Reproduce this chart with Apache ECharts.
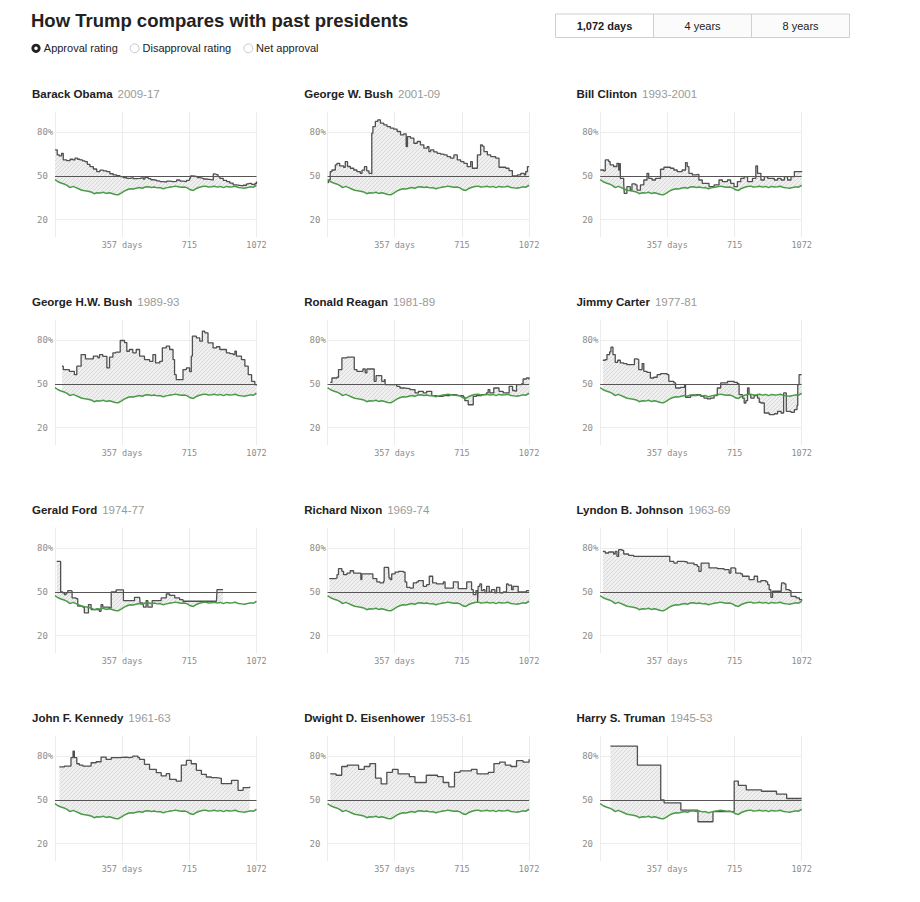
<!DOCTYPE html>
<html><head><meta charset="utf-8">
<script src="https://cdn.jsdelivr.net/npm/echarts@6/dist/echarts.min.js"></script>
<style>html,body{margin:0;padding:0;background:#fff}#chart{width:920px;height:902px}</style>
</head><body><div id="chart"></div>
<script>
// ---------- DATA ----------
const trumpApproval = [[0,47.5],[16,46.0],[32,45.2],[48,44.5],[64,43.5],[80,42.0],[96,42.8],[112,42.0],[128,41.0],[144,40.2],[160,39.8],[176,39.5],[192,39.0],[208,37.8],[224,38.5],[240,38.2],[256,38.8],[272,38.0],[288,38.4],[304,37.9],[320,37.2],[336,37.0],[352,38.2],[368,39.6],[384,40.5],[400,41.2],[416,41.0],[432,41.6],[448,42.0],[464,41.5],[480,42.4],[496,42.6],[512,42.0],[528,42.4],[544,41.8],[560,42.0],[576,41.2],[592,41.8],[608,42.2],[624,42.5],[640,43.0],[656,42.6],[672,42.2],[688,42.4],[704,41.8],[720,40.5],[736,40.0],[752,41.4],[768,42.2],[784,42.8],[800,43.0],[816,42.4],[832,42.6],[848,42.9],[864,42.3],[880,42.8],[896,42.0],[912,42.8],[928,42.4],[944,42.6],[960,42.9],[976,42.0],[992,41.8],[1008,41.6],[1024,42.0],[1040,42.5],[1056,42.3],[1072,43.6]];

const obamaApproval = [[0,67.9],[12,64.5],[23,63.8],[35,65.6],[44,61],[62,60.5],[80,61.5],[95,61],[106,62.2],[120,61.5],[133,61],[146,60.4],[159,59.9],[172,58],[186,56.4],[204,54.8],[222,53],[239,54],[257,53.5],[275,53],[292,51.5],[310,50.7],[328,50.2],[346,49.5],[363,48.9],[381,48.4],[399,48.8],[416,48.2],[434,48.4],[452,48.8],[470,47.8],[478,49],[496,48.1],[510,47.4],[523,47.2],[540,46.6],[558,46.1],[576,45.7],[594,46.4],[611,46.1],[629,46.3],[647,47.2],[665,46.5],[682,46.1],[700,47],[709,47.2],[716,48.5],[721,50],[732,49.8],[744,49.5],[757,48.8],[771,48.4],[789,47.9],[806,47.7],[820,47.4],[833,47.2],[842,51.4],[850,51],[859,50.7],[868,49.5],[877,48.4],[895,47],[913,46.1],[930,45],[948,43.8],[965,43.5],[983,43.1],[1001,43.6],[1019,44.5],[1028,44.9],[1037,44.9],[1046,44.2],[1054,43.8],[1063,44.8],[1072,46.1]];

const bushWApproval = [[0,45.5],[5,47.2],[14,53],[23,54.1],[41,57.6],[50,58.7],[64,56.9],[85,56],[94,59.9],[106,56.5],[121,55.3],[139,54.1],[156,53],[174,51.8],[183,54],[196,56.4],[208,53.5],[220,51.8],[231,51.4],[235,79.4],[241,84],[254,87.5],[267,88.6],[281,86.3],[299,85.2],[316,84],[334,82.9],[352,82.2],[370,80.6],[388,78.3],[405,79],[418,70.2],[425,77.1],[441,76],[459,72.5],[477,73.7],[494,71.4],[512,69.1],[530,70.2],[539,66.8],[548,67.9],[565,66.5],[583,65.6],[601,65],[619,64.5],[636,63.3],[654,62.2],[672,64.5],[690,61],[708,59.9],[725,58.7],[743,56.4],[761,59.9],[770,55.3],[788,55.3],[797,64.5],[814,71.4],[823,70.5],[832,66.8],[850,64.5],[868,63.3],[894,62.2],[912,56],[930,56],[948,55.3],[965,53.7],[983,50],[1010,50.7],[1028,51.8],[1046,50.7],[1054,53],[1063,56.4],[1072,56.8]];

const clintonApproval = [[0,54.1],[18,53.5],[27,61],[45,59.9],[53,57.6],[71,56.5],[89,58.7],[98,54.1],[103,58.5],[107,48.4],[125,44.9],[128,38],[142,42.6],[160,40.3],[169,44.5],[187,43.8],[196,40.3],[214,43.8],[232,47.2],[249,51.8],[258,48.4],[276,47.2],[294,48.4],[321,54.6],[339,56],[356,56],[374,55.3],[392,54.1],[410,53],[436,54.1],[454,59.2],[463,56.4],[472,51.8],[490,50.7],[508,51.1],[525,47.2],[543,44.9],[579,42.6],[606,43.8],[632,47.2],[650,46.1],[677,47.2],[694,44.9],[712,42.6],[730,46.1],[748,48.4],[766,49.5],[784,46.1],[810,48.4],[828,56.9],[837,51.8],[855,47.2],[873,49.5],[891,48.4],[926,47.2],[944,48.4],[962,47.2],[980,49.5],[997,47.2],[1015,49.5],[1033,53],[1051,53],[1072,52.5]];

const hwBushApproval = [[37,62.2],[44,59.9],[76,58.7],[103,56.4],[116,62.2],[139,70.2],[162,67.2],[187,67.2],[204,69.1],[228,68],[237,70.2],[254,69],[276,61],[290,68.5],[308,71.4],[325,71.9],[347,79.9],[370,78.5],[382,72.5],[396,73.7],[414,71.4],[432,73.7],[450,69.1],[476,66.8],[503,65.6],[521,70.2],[535,64.5],[557,65.6],[571,74.8],[592,76],[610,73.7],[628,66.8],[636,56.4],[645,53],[672,53],[681,59.9],[699,61],[716,58.5],[725,69.1],[731,82.9],[752,81.7],[770,79.4],[784,86.3],[797,85.2],[814,78.3],[841,74.8],[859,75.6],[877,73.7],[912,71.4],[930,70.8],[948,70.2],[957,72.5],[965,69.1],[992,66.8],[1010,62.2],[1028,56.4],[1046,51.8],[1063,49.5],[1072,48.9]];

const reaganApproval = [[14,51.1],[23,54.1],[50,54.6],[58,59.9],[76,67.9],[103,68.4],[138,68.4],[142,59.9],[156,58.7],[182,58.7],[188,60.3],[200,57.6],[209,60.3],[244,60.3],[248,51.8],[258,55.7],[283,55.7],[288,51.8],[302,53],[306,49.5],[333,49.5],[368,48.4],[385,47.2],[412,46.8],[438,46.1],[465,43.8],[483,44.9],[509,43.8],[527,44.9],[554,42],[580,41.5],[616,42],[651,42.6],[686,42],[722,41],[730,38.5],[748,35.7],[771,35.7],[775,41.5],[792,42],[819,42.6],[845,43.8],[854,46.1],[863,43.8],[884,47.2],[907,47.2],[912,44.9],[934,43.8],[952,43.8],[966,48.4],[978,48.4],[984,45.5],[996,45],[1005,49.5],[1031,50],[1040,53.4],[1058,54.1],[1072,53]];

const carterApproval = [[14,66.3],[27,66.8],[36,70.2],[50,72.1],[57,75.3],[68,70.2],[80,64.9],[93,66.3],[107,64.5],[125,64],[142,63.3],[169,63.3],[182,67.2],[196,66.8],[205,59.9],[223,64],[232,58.7],[249,58],[267,54.1],[285,54.6],[303,56.4],[321,57.1],[347,57.1],[356,56.4],[365,51.8],[392,50.7],[401,47.2],[427,47.7],[449,49.5],[454,40.8],[481,42],[508,42.6],[535,41.5],[552,40.3],[570,39.7],[588,40.3],[606,42],[623,47.2],[641,50.7],[659,50.7],[677,51.8],[712,51.1],[730,50.2],[739,42.6],[757,40.3],[766,36.9],[775,38.5],[784,47.2],[792,42.6],[801,40.3],[819,42],[837,40.3],[846,37.4],[855,36.9],[873,30],[899,28.9],[926,29.5],[944,31.2],[962,30],[976,43.8],[983,43.8],[990,31.2],[1015,30.5],[1033,32.3],[1047,35.1],[1051,49.5],[1058,56.4],[1072,56.4]];

const fordApproval = [[9,71],[30,50],[41,49.3],[50,48.2],[59,49.3],[68,50.9],[85,50.5],[91,45.9],[112,45.4],[121,40.2],[148,39.5],[156,35.6],[174,35.6],[178,41.3],[192,37.9],[219,37.9],[236,36.7],[245,41.3],[254,39.5],[290,39],[299,50],[325,51.4],[357,51.4],[364,44.1],[414,44.1],[423,46.3],[450,46.3],[453,42.4],[468,42.4],[471,39.5],[485,44.1],[494,39.5],[512,39.5],[517,44.1],[539,44.1],[565,45.9],[592,48.6],[610,47.7],[637,45.9],[663,44.7],[681,43.6],[859,43.6],[862,51.6],[894,51.6]];

const nixonApproval = [[9,59.2],[41,59.6],[50,61.9],[58,66],[76,64.2],[85,61.9],[103,63],[120,64.6],[138,63],[173,63],[177,58.5],[182,62.4],[235,62.4],[241,59.2],[262,56.9],[279,56.2],[297,57.3],[301,66.9],[324,66.9],[327,59.6],[333,58.5],[341,62.4],[359,63.7],[377,64.2],[403,63.7],[412,56.9],[421,53.2],[439,52.7],[456,56.2],[474,56.9],[483,57.8],[501,57.8],[509,53.9],[527,55],[541,60.8],[554,60.8],[559,56.2],[580,55.5],[607,55.5],[616,56.9],[625,52.7],[669,56.9],[695,52.3],[731,52.3],[740,56.9],[757,56.9],[766,51.6],[775,48.2],[789,50.9],[798,43.1],[801,53.9],[810,55.5],[819,50.9],[828,51.6],[837,49.6],[846,53.9],[860,49.8],[872,51.6],[890,49.3],[899,53.2],[916,49.3],[934,50],[952,55.5],[961,54.7],[979,51.6],[987,53.9],[1014,50],[1040,50],[1058,50.9],[1072,50.9]];

const johnsonApproval = [[14,77.9],[27,76.8],[45,77.5],[71,76.1],[80,77.9],[89,74.5],[98,79.1],[116,78.6],[125,76.1],[151,75.2],[178,74.5],[365,74.5],[370,71],[392,69.9],[410,71],[445,70.6],[463,69.9],[499,68.8],[516,67.6],[525,64.2],[537,69.9],[570,69.9],[579,66.5],[623,66],[659,65.3],[686,63],[695,66.5],[712,66.2],[721,63],[748,62.4],[757,60.8],[784,60.8],[792,58.5],[810,58.5],[819,60.8],[837,56.9],[855,57.8],[882,56.9],[891,55],[899,51.6],[908,46.3],[917,50.5],[944,50.5],[962,49.3],[965,56.2],[979,55.5],[988,51.6],[1006,50.9],[1015,47],[1042,45.9],[1060,44.7],[1072,44]];

const kennedyApproval = [[23,72.7],[50,73.3],[76,73.3],[85,79.1],[96,83.6],[103,79.1],[116,74.9],[130,74],[148,73.3],[183,73.3],[192,75.6],[219,76.3],[245,79.5],[272,77.9],[299,79.1],[325,79.1],[343,79.5],[379,79.1],[396,79.5],[414,80.2],[441,79.1],[450,77.9],[476,74.5],[503,71.1],[539,68.8],[565,66.5],[592,68.1],[610,64.2],[645,63],[672,74],[699,77.2],[725,74.9],[752,70.4],[779,67.6],[805,65.8],[832,65.3],[859,64.9],[885,61.2],[912,61.2],[939,63.5],[974,56.6],[1001,58.5],[1036,59.2]];

const eisenhowerApproval = [[14,68],[45,67],[75,73],[105,74],[135,74],[165,71],[195,73],[225,75],[255,65],[285,61],[315,69],[345,71],[375,68],[405,68],[435,66],[465,62],[495,62],[525,67],[555,67],[585,66],[615,62],[645,59],[675,69],[705,70],[735,70],[765,71],[795,68],[825,68],[855,69],[885,75],[915,76],[945,74],[975,73],[1005,77],[1040,76],[1072,78]];

const trumanApproval = [[54,87],[198,74],[322,50],[340,48],[429,43],[520,35],[600,42],[713,63],[735,60],[777,57],[858,56],[938,54],[992,51],[1072,51]];

const presidentNames = ['Barack Obama','George W. Bush','Bill Clinton','George H.W. Bush','Ronald Reagan','Jimmy Carter','Gerald Ford','Richard Nixon','Lyndon B. Johnson','John F. Kennedy','Dwight D. Eisenhower','Harry S. Truman'];
const presidentYears = ['2009-17','2001-09','1993-2001','1989-93','1981-89','1977-81','1974-77','1969-74','1963-69','1961-63','1953-61','1945-53'];
const presidentSeries = [obamaApproval,bushWApproval,clintonApproval,hwBushApproval,reaganApproval,carterApproval,fordApproval,nixonApproval,johnsonApproval,kennedyApproval,eisenhowerApproval,trumanApproval];

const xTickValues = [0,357,715,1072];
const xLabelValues = [357,715,1072];
const yTickValues = [20,50,80];
const legendItems = ['Approval rating','Disapproval rating','Net approval'];
const buttonLabels = ['1,072 days','4 years','8 years'];
const chartTitle = 'How Trump compares with past presidents';

// ---------- HATCH PATTERN ----------
const pc = document.createElement('canvas');
pc.width = 4; pc.height = 4;
const pctx = pc.getContext('2d');
pctx.fillStyle = '#efefef'; pctx.fillRect(0,0,4,4);
pctx.strokeStyle = '#d6d6d6'; pctx.lineWidth = 0.9;
pctx.beginPath();
pctx.moveTo(0,4); pctx.lineTo(4,0);
pctx.moveTo(-1,1); pctx.lineTo(1,-1);
pctx.moveTo(3,5); pctx.lineTo(5,3);
pctx.stroke();
const hatch = {image: pc, repeat: 'repeat', imageWidth: 4, imageHeight: 4};

function trumpAt(d){
  const t = trumpApproval;
  if (d <= t[0][0]) return t[0][1];
  for (let i=1;i<t.length;i++){
    if (d <= t[i][0]) {
      const f = (d - t[i-1][0])/(t[i][0]-t[i-1][0]);
      return t[i-1][1] + f*(t[i][1]-t[i-1][1]);
    }
  }
  return t[t.length-1][1];
}

function makeFill(pres){
  return function(params, api){
    const pts = [];
    for (let i=0;i<pres.length;i++){
      if (i>0) pts.push(api.coord([pres[i][0], pres[i-1][1]]));
      pts.push(api.coord(pres[i]));
    }
    const d0 = pres[0][0], d1 = pres[pres.length-1][0];
    pts.push(api.coord([d1, trumpAt(d1)]));
    for (let i=trumpApproval.length-1;i>=0;i--){
      const p = trumpApproval[i];
      if (p[0] > d0 && p[0] < d1) pts.push(api.coord(p));
    }
    pts.push(api.coord([d0, trumpAt(d0)]));
    return {type:'polygon', silent:true, shape:{points:pts}, style:{fill: hatch, stroke: null}};
  };
}

// ---------- LAYOUT ----------
const grids=[], xAxes=[], yAxes=[], series=[], titles=[];
const labelFont = 'DejaVu Sans Mono';
presidentSeries.forEach((pres, k) => {
  const r = Math.floor(k/3), c = k%3;
  const left = 55 + c*272.6, top = 112 + r*208;
  grids.push({left: left, top: top, width: 201.5, height: 125});
  titles.push({
    left: 27 + c*272.2, top: 80.4 + r*208,
    text: '{n|' + presidentNames[k] + '} {y|' + presidentYears[k] + '}',
    textStyle: {fontWeight:'normal', rich: {
      n: {fontFamily:'Liberation Sans', fontWeight:'bold', fontSize:11.5, color:'#222', lineHeight:14},
      y: {fontFamily:'Liberation Sans', fontWeight:'normal', fontSize:11.5, color:'#9a9a9a', lineHeight:14}
    }}
  });
  xAxes.push({
    type:'value', gridIndex:k, min:0, max:1072,
    axisLine:{show:false},
    axisTick:{show:false, customValues: xTickValues},
    splitLine:{show:true, lineStyle:{color:'#ececec', width:1}},
    axisLabel:{customValues: xLabelValues, margin:3, fontFamily:labelFont, fontSize:8.5, color:'#8c8c8c',
      formatter: v => v === 357 ? '357 days' : String(v)}
  });
  yAxes.push({
    type:'value', gridIndex:k, min:8, max:94,
    axisLine:{show:false},
    axisTick:{show:false, customValues: yTickValues},
    splitLine:{show:true, lineStyle:{color:'#ececec', width:1}},
    axisLabel:{customValues: yTickValues, align:'left', margin:18, fontFamily:labelFont, fontSize:9, color:'#8c8c8c',
      formatter: v => v === 80 ? '80%' : String(v)}
  });
  series.push({
    type:'custom', xAxisIndex:k, yAxisIndex:k, z:1, silent:true, clip:true,
    data:[[0,0]], renderItem: makeFill(pres)
  });
  series.push({
    type:'line', xAxisIndex:k, yAxisIndex:k, z:3, data: pres, step:'end',
    showSymbol:false, symbol:'none', silent:true,
    lineStyle:{color:'#505050', width:1.3},
    markLine:{silent:true, symbol:['none','none'], label:{show:false},
      lineStyle:{color:'#555', width:1, type:'solid'}, data:[{yAxis:50}]}
  });
  series.push({
    type:'line', xAxisIndex:k, yAxisIndex:k, z:4, data: trumpApproval,
    showSymbol:false, symbol:'none', silent:true,
    lineStyle:{color:'#4a9a46', width:1.5}
  });
});

titles.push({left: 26, top: 6.3, text: chartTitle,
  textStyle:{fontFamily:'Liberation Sans', fontWeight:'bold', fontSize:18.5, color:'#222'}});

// legend radios & buttons
const graphics = [];
const radioX = [36, 134.7, 248.3];
legendItems.forEach((t,i) => {
  if (i === 0) {
    graphics.push({type:'circle', shape:{cx:radioX[i], cy:48.3, r:4.6}, style:{fill:'#222'}});
    graphics.push({type:'circle', shape:{cx:radioX[i], cy:48.3, r:1.8}, style:{fill:'#fff'}});
  } else {
    graphics.push({type:'circle', shape:{cx:radioX[i], cy:48.3, r:4.4}, style:{fill:'#fff', stroke:'#c8c8c8', lineWidth:1}});
  }
  graphics.push({type:'text', x: radioX[i]+7.8, y:48.3, style:{text:t, fontFamily:'Liberation Sans', fontSize:11, fill:'#222', verticalAlign:'middle', align:'left'}});
});
const btnX = [555.5, 653.5, 751.5];
buttonLabels.forEach((t,i) => {
  graphics.push({type:'rect', shape:{x:btnX[i], y:14, width:98, height:23.5}, style:{fill: i===0 ? '#fff' : '#fbfbfb', stroke:'#cfcfcf', lineWidth:1}});
  graphics.push({type:'text', x: btnX[i]+49, y:25.8, style:{text:t, fontFamily:'Liberation Sans', fontSize:11, fontWeight: i===0 ? 'bold' : 'normal', fill:'#222', align:'center', verticalAlign:'middle'}});
});

const chart = echarts.init(document.getElementById('chart'), null, {renderer:'svg'});
chart.setOption({
  animation:false,
  backgroundColor:'#fff',
  title: titles,
  grid: grids,
  xAxis: xAxes,
  yAxis: yAxes,
  series: series,
  graphic: graphics
});
</script>
</body></html>
